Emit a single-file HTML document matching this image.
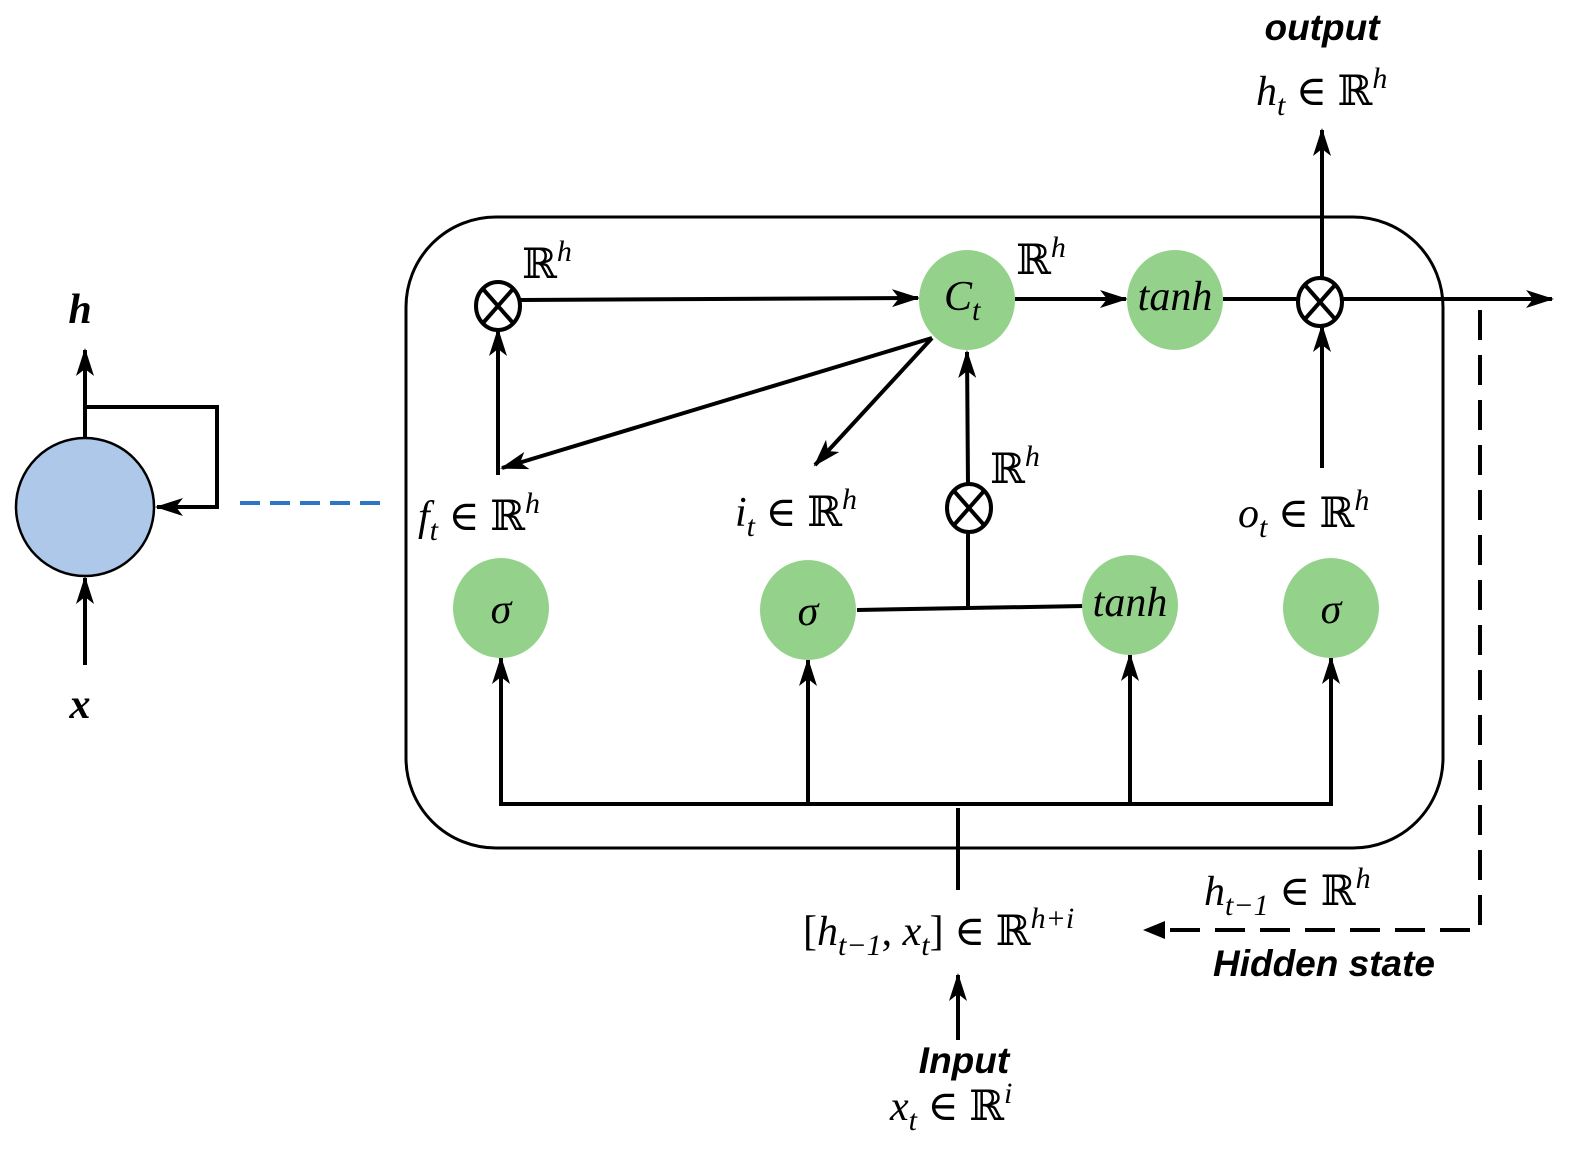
<!DOCTYPE html>
<html><head><meta charset="utf-8"><style>
html,body{margin:0;padding:0;background:#fff}
svg{display:block}
.m{font-family:"Liberation Serif","DejaVu Serif",serif;font-size:42px;fill:#000}
.i{font-style:italic}
.b{font-family:"Liberation Sans",sans-serif;font-weight:bold;font-style:italic;font-size:37px}
</style></head><body>
<svg width="1579" height="1150" viewBox="0 0 1579 1150" xmlns="http://www.w3.org/2000/svg">
<defs>
<marker id="A" markerWidth="28" markerHeight="20" refX="26" refY="10" orient="auto" markerUnits="userSpaceOnUse">
<path d="M0,1 L28,10 L0,19 L7,10 z" fill="#000"/></marker>
</defs>
<g stroke="#000" stroke-width="4" fill="none">
<rect x="406" y="217" width="1037" height="631" rx="90" ry="90" stroke-width="3"/>
<line x1="520" y1="300" x2="918" y2="298" marker-end="url(#A)"/>
<line x1="1015" y1="299" x2="1126" y2="299" marker-end="url(#A)"/>
<line x1="1223" y1="299" x2="1298" y2="299"/>
<line x1="1342" y1="299" x2="1552" y2="299" marker-end="url(#A)"/>
<line x1="1322" y1="280" x2="1322" y2="130" marker-end="url(#A)"/>
<line x1="1322" y1="468" x2="1322" y2="326" marker-end="url(#A)"/>
<line x1="498" y1="475" x2="498" y2="330" marker-end="url(#A)"/>
<line x1="932" y1="338" x2="502" y2="468" marker-end="url(#A)"/>
<line x1="932" y1="338" x2="815" y2="465" marker-end="url(#A)"/>
<line x1="968" y1="485" x2="967" y2="352" marker-end="url(#A)"/>
<line x1="968" y1="530" x2="968" y2="608"/>
<line x1="857" y1="610" x2="1084" y2="606"/>
<polyline points="501,658 501,804 1331,804 1331,658"/>
<line x1="501" y1="804" x2="501" y2="658" marker-end="url(#A)"/>
<line x1="808" y1="804" x2="808" y2="660" marker-end="url(#A)"/>
<line x1="1130" y1="804" x2="1130" y2="655" marker-end="url(#A)"/>
<line x1="1331" y1="804" x2="1331" y2="658" marker-end="url(#A)"/>
<line x1="958" y1="808" x2="958" y2="890"/>
<line x1="958" y1="1040" x2="958" y2="975" marker-end="url(#A)"/>
<polyline points="1480,310 1480,930 1170,930" stroke-dasharray="30,15"/>
<path d="M1143,930 L1165,921 L1165,939 z" fill="#000" stroke="none"/>
<line x1="85" y1="437" x2="85" y2="350" marker-end="url(#A)"/>
<polyline points="85,407 217,407 217,507 157,507" marker-end="url(#A)"/>
<line x1="85" y1="665" x2="85" y2="578" marker-end="url(#A)"/>
</g>
<line x1="240" y1="503" x2="385" y2="503" stroke="#2e75c6" stroke-width="4" stroke-dasharray="20,10"/>
<circle cx="85" cy="507" r="69" fill="#aec8e9" stroke="#000" stroke-width="2.5"/>
<g fill="#94d28b">
<ellipse cx="967" cy="300" rx="48" ry="50"/>
<ellipse cx="1175" cy="300" rx="48" ry="50"/>
<ellipse cx="501" cy="608" rx="48" ry="50"/>
<ellipse cx="808" cy="610" rx="48" ry="50"/>
<ellipse cx="1130" cy="605" rx="48" ry="50"/>
<ellipse cx="1331" cy="608" rx="48" ry="50"/>
</g>
<g stroke="#000" stroke-width="4" fill="#fff">
<ellipse cx="498" cy="306" rx="22" ry="24"/>
<ellipse cx="969" cy="508" rx="22" ry="24"/>
<ellipse cx="1320" cy="302" rx="22" ry="24"/>
<path d="M483,289 L513,323 M513,289 L483,323 M954,491 L984,525 M984,491 L954,525 M1305,285 L1335,319 M1335,285 L1305,319"/>
</g>
<g class="m">
<text x="944" y="310" class="i">C<tspan font-size="30" dy="10">t</tspan></text>
<text x="1175" y="310" class="i" text-anchor="middle">tanh</text>
<text x="1130" y="616" class="i" text-anchor="middle">tanh</text>
<text x="501" y="623" class="i" text-anchor="middle">σ</text>
<text x="808" y="625" class="i" text-anchor="middle">σ</text>
<text x="1331" y="623" class="i" text-anchor="middle">σ</text>
<text x="522" y="278">ℝ<tspan class="i" font-size="30" dy="-17">h</tspan></text>
<text x="1016" y="274">ℝ<tspan class="i" font-size="30" dy="-17">h</tspan></text>
<text x="990" y="483">ℝ<tspan class="i" font-size="30" dy="-17">h</tspan></text>
<text x="418" y="530"><tspan class="i">f</tspan><tspan class="i" font-size="30" dy="10">t</tspan><tspan dy="-10"> ∈ ℝ</tspan><tspan class="i" font-size="30" dy="-17">h</tspan></text>
<text x="735" y="526"><tspan class="i">i</tspan><tspan class="i" font-size="30" dy="10">t</tspan><tspan dy="-10"> ∈ ℝ</tspan><tspan class="i" font-size="30" dy="-17">h</tspan></text>
<text x="1238" y="527"><tspan class="i">o</tspan><tspan class="i" font-size="30" dy="10">t</tspan><tspan dy="-10"> ∈ ℝ</tspan><tspan class="i" font-size="30" dy="-17">h</tspan></text>
<text x="1256" y="105"><tspan class="i">h</tspan><tspan class="i" font-size="30" dy="10">t</tspan><tspan dy="-10"> ∈ ℝ</tspan><tspan class="i" font-size="30" dy="-17">h</tspan></text>
<text x="1204" y="905"><tspan class="i">h</tspan><tspan class="i" font-size="30" dy="10">t−1</tspan><tspan dy="-10"> ∈ ℝ</tspan><tspan class="i" font-size="30" dy="-17">h</tspan></text>
<text x="803" y="945">[<tspan class="i">h</tspan><tspan class="i" font-size="30" dy="10">t−1</tspan><tspan dy="-10">, </tspan><tspan class="i">x</tspan><tspan class="i" font-size="30" dy="10">t</tspan><tspan dy="-10">] ∈ ℝ</tspan><tspan class="i" font-size="30" dy="-17">h+i</tspan></text>
<text x="890" y="1120"><tspan class="i">x</tspan><tspan class="i" font-size="30" dy="10">t</tspan><tspan dy="-10"> ∈ ℝ</tspan><tspan class="i" font-size="30" dy="-17">i</tspan></text>
<text x="80" y="323" class="i" font-weight="bold" text-anchor="middle">h</text>
<text x="80" y="718" class="i" font-weight="bold" text-anchor="middle">x</text>
</g>
<text x="1322" y="40" class="b" text-anchor="middle">output</text>
<text x="1324" y="976" class="b" text-anchor="middle">Hidden state</text>
<text x="964" y="1073" class="b" text-anchor="middle">Input</text>
</svg>
</body></html>
